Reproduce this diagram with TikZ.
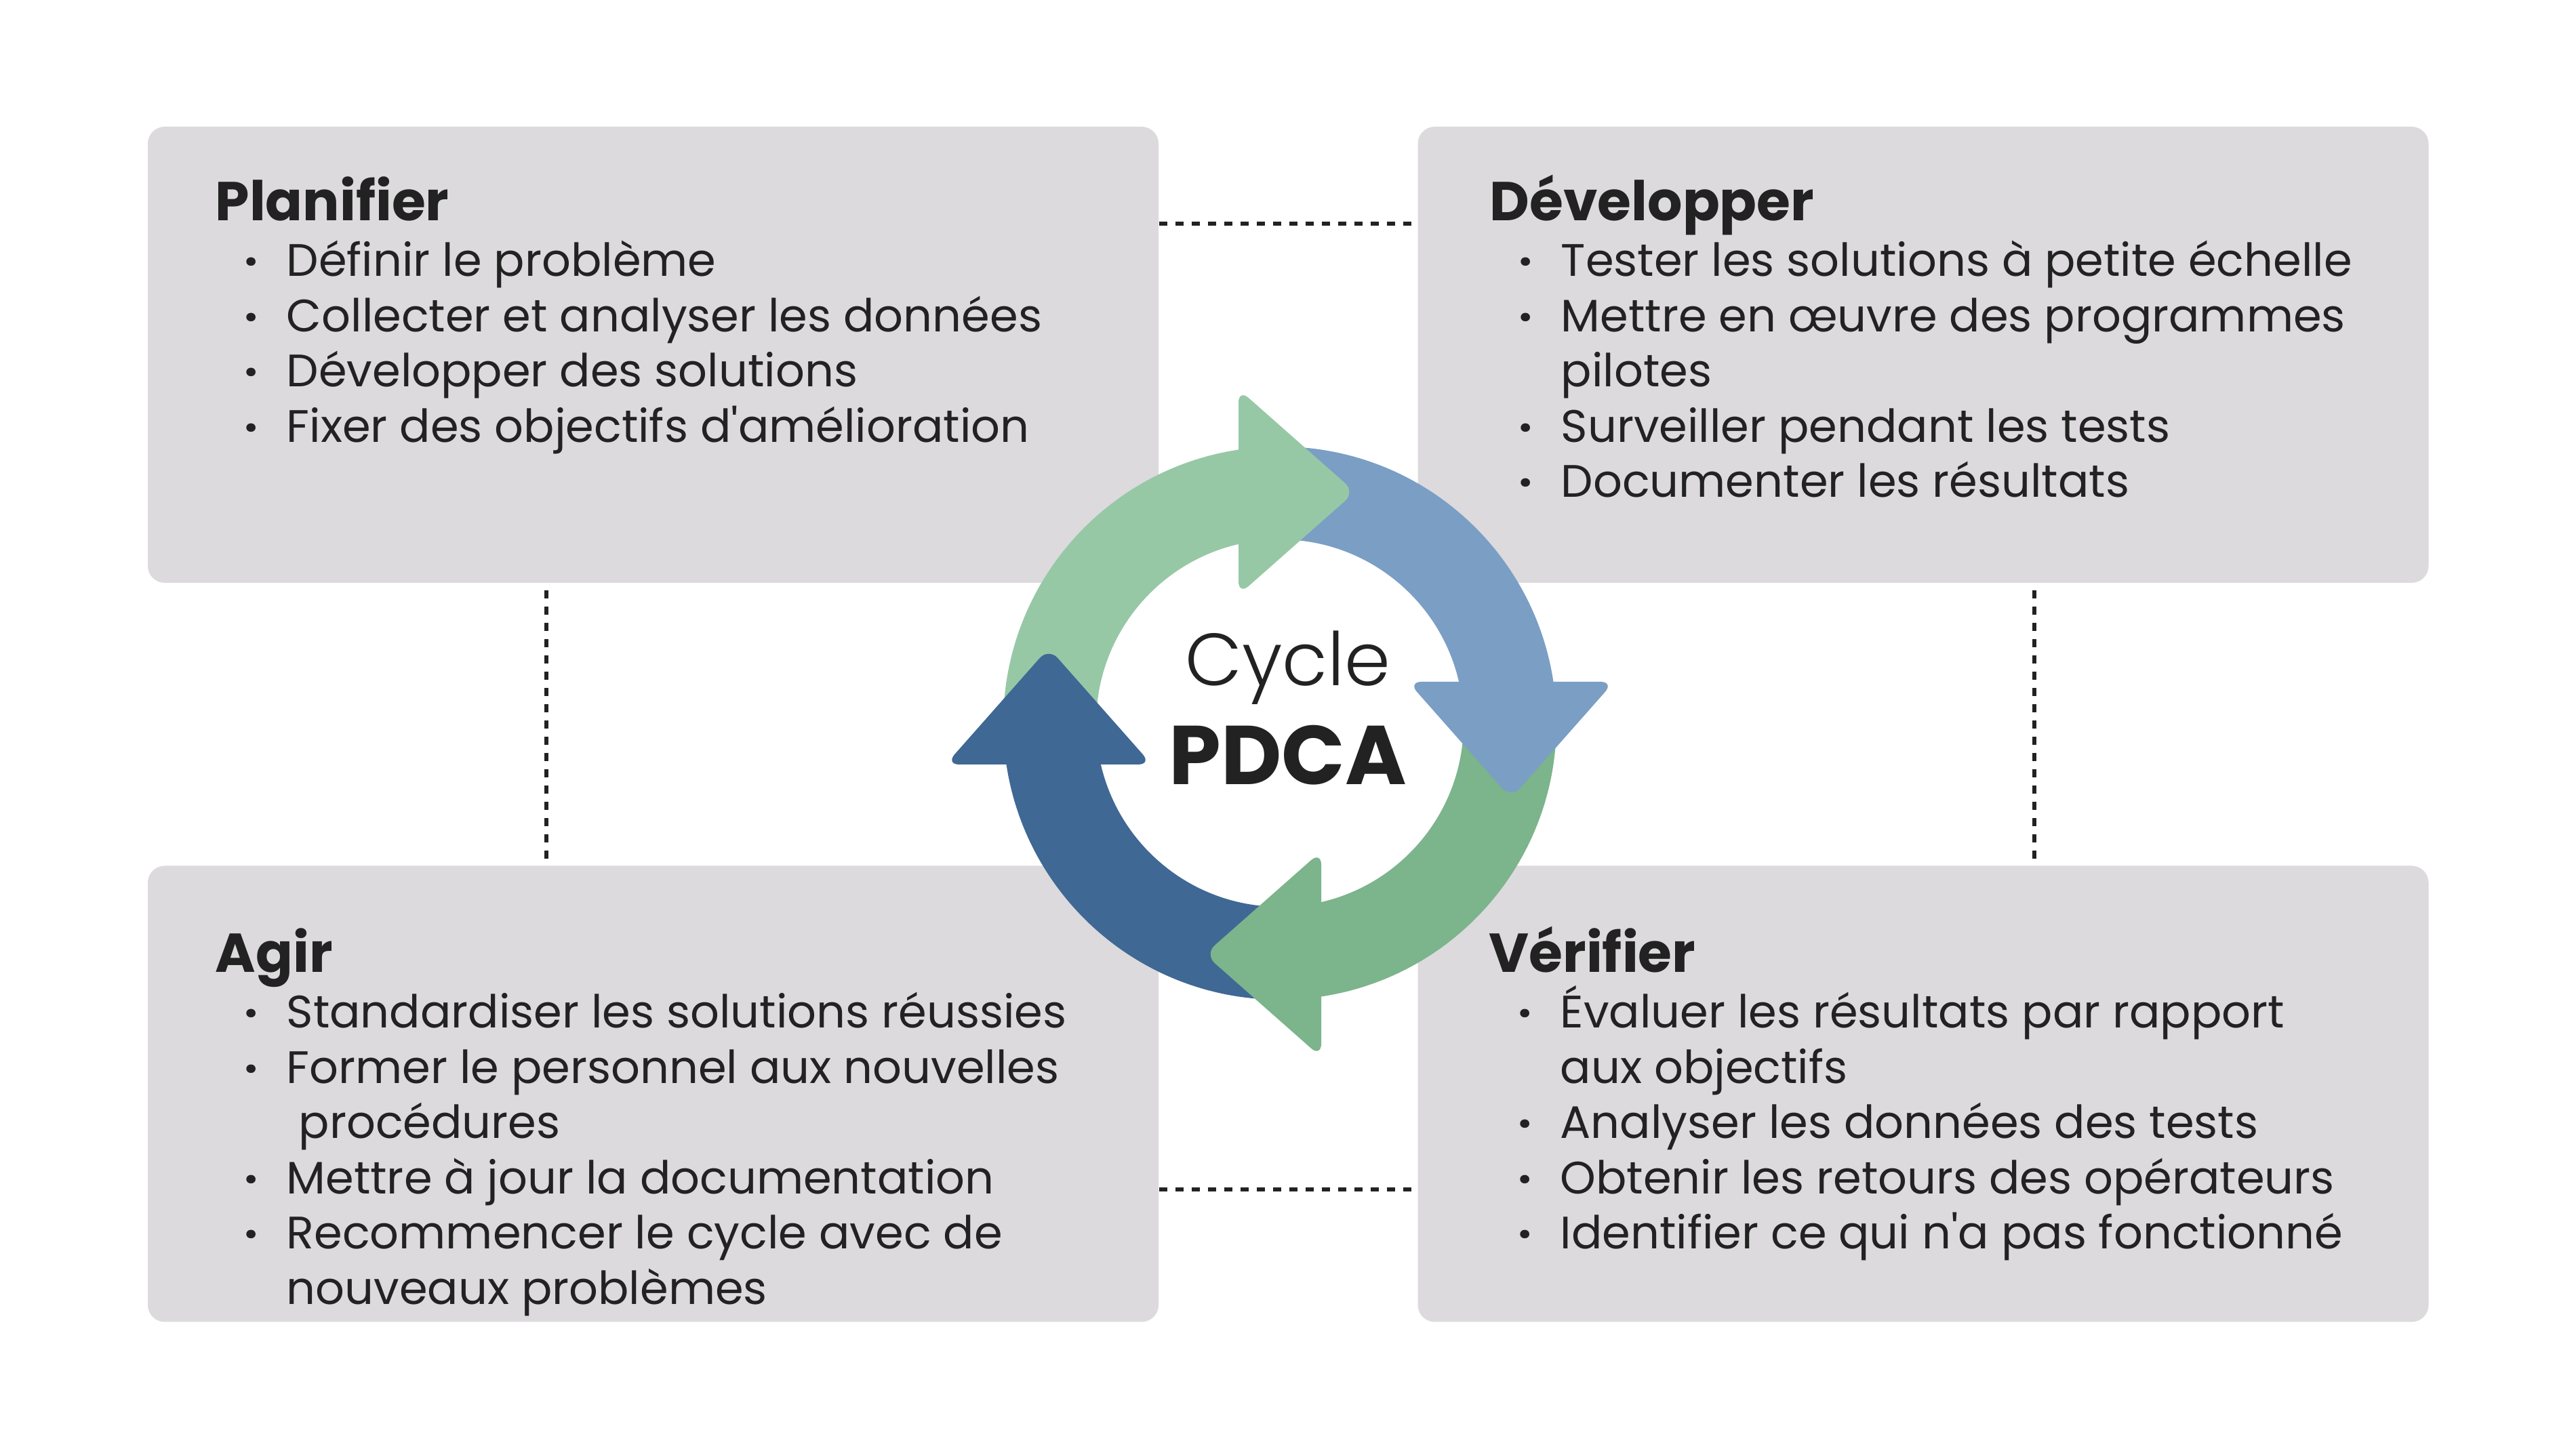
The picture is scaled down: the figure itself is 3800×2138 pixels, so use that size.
\documentclass[tikz,border=0pt]{standalone}
\usepackage{fontspec}
\setmainfont{Poppins}[Ligatures=TeXOff]
\IfFontExistsTF{Poppins Light}
  {\newfontfamily\lightfont{Poppins Light}}
  {\newfontfamily\lightfont{Poppins}}

\definecolor{boxgray}{HTML}{DCDADD}
\definecolor{inkgray}{HTML}{222222}
\definecolor{plangreen}{HTML}{97C8A5}
\definecolor{doblue}{HTML}{7B9EC4}
\definecolor{checkgreen}{HTML}{7CB48C}
\definecolor{actblue}{HTML}{3F6894}

\newcommand{\headfont}{\fontsize{23}{23.2}\selectfont\bfseries}
\newcommand{\pitem}{\makebox[10.5mm][l]{\hspace{4.3mm}{\bfseries ·}}}
\newcommand{\pwrap}{\hspace*{10.5mm}}

\tikzset{
  phase/.style={rectangle, rounded corners=2.5mm, fill=boxgray,
    minimum width=149.1mm, minimum height=67.3mm, inner sep=0pt},
  phasetxt/.style={anchor=base west, inner sep=0pt, text=inkgray,
    font=\fontsize{19.1}{23.2}\selectfont},
  link/.style={draw=inkgray, line width=0.6mm, dash pattern=on 1.2mm off 1.2mm},
}

\begin{document}
\begin{tikzpicture}[x=0.1mm, y=0.1mm]
  \fill[white] (0,0) rectangle (3800,2138);

  % the four phases
  \node[phase] (plan) at (963.5,1614.5) {};
  \node[phase] (dev) at (2837,1614.5) {};
  \node[phase] (agir) at (963.5,524) {};
  \node[phase] (verif) at (2837,524) {};

  \draw[link] ([yshift=-14.4mm]plan.north east) -- ([yshift=-14.4mm]dev.north west);
  \draw[link] ([yshift=19.6mm]agir.south east) -- ([yshift=19.6mm]verif.south west);
  \draw[link] ([xshift=58.9mm,yshift=-1mm]plan.south west) -- ([xshift=58.9mm,yshift=1mm]agir.north west);
  \draw[link] ([xshift=-58.2mm,yshift=-1mm]dev.south east) -- ([xshift=-58.2mm,yshift=1mm]verif.north east);

  \node[phasetxt] (plantxt) at (317,1812) {\parbox[t]{140mm}{{\headfont Planifier}\\
    \pitem Définir le problème\\
    \pitem Collecter et analyser les données\\
    \pitem Développer des solutions\\
    \pitem Fixer des objectifs d'amélioration}};
  \node[phasetxt] (devtxt) at (2197,1812) {\parbox[t]{140mm}{{\headfont Développer}\\
    \pitem Tester les solutions à petite échelle\\
    \pitem Mettre en œuvre des programmes\\
    \pwrap pilotes\\
    \pitem Surveiller pendant les tests\\
    \pitem Documenter les résultats}};
  \node[phasetxt] (agirtxt) at (317,703) {\parbox[t]{140mm}{{\headfont Agir}\\
    \pitem Standardiser les solutions réussies\\
    \pitem Former le personnel aux nouvelles\\
    \pwrap\hspace*{1.8mm}procédures\\
    \pitem Mettre à jour la documentation\\
    \pitem Recommencer le cycle avec de\\
    \pwrap nouveaux problèmes}};
  \node[phasetxt] (veriftxt) at (2196,703) {\parbox[t]{140mm}{{\headfont Vérifier}\\
    \pitem Évaluer les résultats par rapport\\
    \pwrap aux objectifs\\
    \pitem Analyser les données des tests\\
    \pitem Obtenir les retours des opérateurs\\
    \pitem Identifier ce qui n'a pas fonctionné}};

  % cycle ring: arcs first, heads on top
  \begin{scope}[shift={(1888,1071)}]
    \foreach \col [count=\k from 0] in {plangreen,doblue,checkgreen,actblue}
      \fill[\col, rotate=-90*\k] (180:408) arc[start angle=180, end angle=90, radius=408]
        -- (90:271) arc[start angle=90, end angle=180, radius=271] -- cycle;
    \foreach \col [count=\k from 0] in {plangreen,doblue,checkgreen,actblue}
      \fill[\col, rotate=-90*\k, rounded corners=2mm] (-61,189) -- (-61,493) -- (111,341) -- cycle;
  \end{scope}

  \node[anchor=base, inner sep=0pt, text=inkgray, font=\lightfont\fontsize{31}{31}\selectfont] (cyc) at (1900,1126) {Cycle};
  \node[anchor=base, inner sep=0pt, text=inkgray, font=\bfseries\fontsize{35}{35}\selectfont] (pdca) at (1900,980) {PDCA};
\end{tikzpicture}
\end{document}
